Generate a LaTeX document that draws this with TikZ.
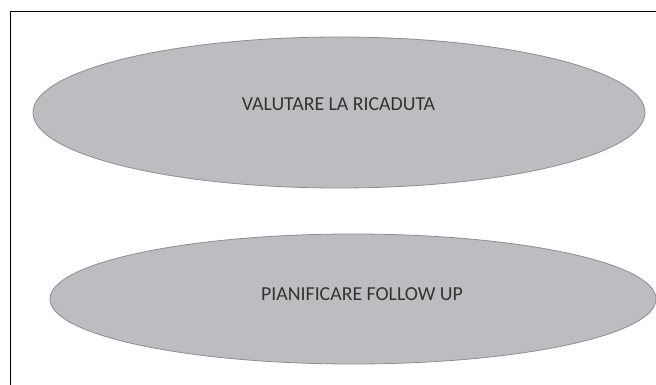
\documentclass[tikz,border=0pt]{standalone}
\usepackage{fontspec}
\setmainfont{Carlito}
\usetikzlibrary{shapes.geometric}
\definecolor{ellfill}{HTML}{BDBDC1}
\definecolor{elldraw}{HTML}{8E8E90}
\definecolor{txt}{HTML}{333333}
\begin{document}
\begin{tikzpicture}[x=1pt,y=-1pt,
  oval/.style={ellipse, draw=elldraw, fill=ellfill, line width=0.8pt, inner sep=0pt},
  lbl/.style={text=txt, font=\fontsize{19.8}{23}\selectfont, inner sep=0pt}]
\useasboundingbox (0,0) rectangle (656,385);
\draw[line width=1pt, black] (10,385) -- (10,12) -- (656,12);
\node[oval, minimum width=612pt, minimum height=151pt] (e1) at (339,112.5) {};
\node[oval, minimum width=606pt, minimum height=130pt] (e2) at (353,299) {};
\node[lbl] (t1) at (338.5,104.5) {VALUTARE LA RICADUTA};
\node[lbl] (t2) at (362,294) {PIANIFICARE FOLLOW UP};
\end{tikzpicture}
\end{document}
